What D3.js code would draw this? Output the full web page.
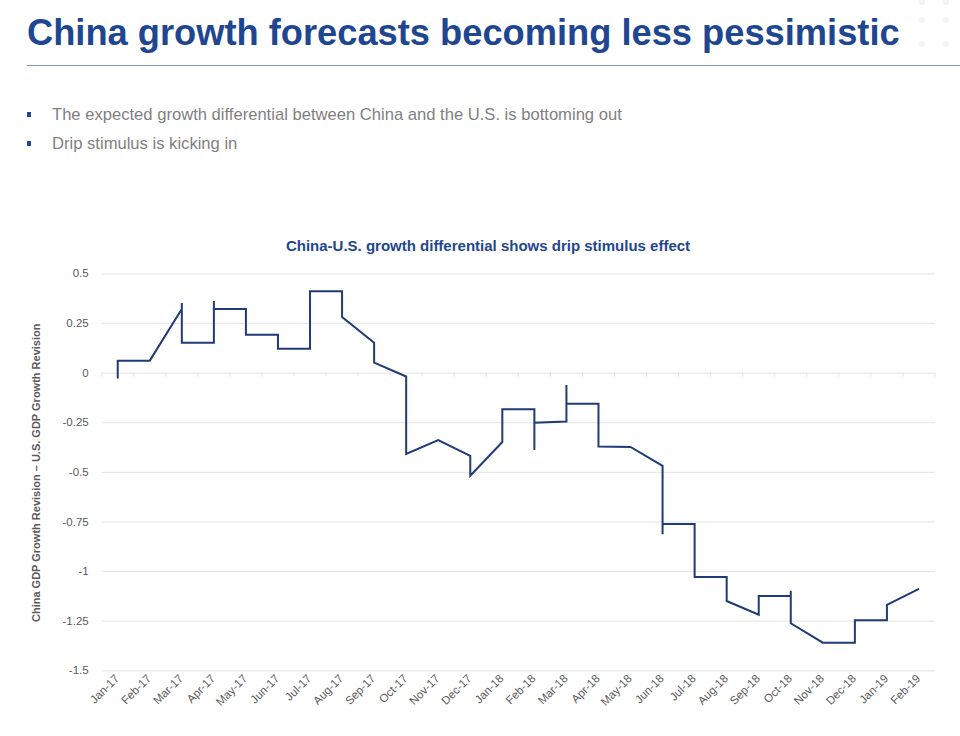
<!DOCTYPE html>
<html>
<head>
<meta charset="utf-8">
<script src="https://cdn.jsdelivr.net/npm/d3@7"></script>
<style>
  html, body { margin: 0; padding: 0; background: #fff; }
  svg { display: block; font-family: "Liberation Sans", Arial, sans-serif; }
</style>
</head>
<body>
<svg id="chart" width="960" height="736"></svg>
<script>
// ---- Data ----
const pageTitle = "China growth forecasts becoming less pessimistic";
const bullets = [
  "The expected growth differential between China and the U.S. is bottoming out",
  "Drip stimulus is kicking in"
];
const chartTitle = "China-U.S. growth differential shows drip stimulus effect";
const yAxisTitle = "China GDP Growth Revision \u2013 U.S. GDP Growth Revision";

const categories = ["Jan-17","Feb-17","Mar-17","Apr-17","May-17","Jun-17","Jul-17","Aug-17",
  "Sep-17","Oct-17","Nov-17","Dec-17","Jan-18","Feb-18","Mar-18","Apr-18","May-18","Jun-18",
  "Jul-18","Aug-18","Sep-18","Oct-18","Nov-18","Dec-18","Jan-19","Feb-19"];

// successive readings within each month (in order)
const monthValues = [
  [-0.03, 0.06],
  [0.06],
  [0.32, 0.35, 0.15],
  [0.15, 0.36, 0.32],
  [0.32, 0.19],
  [0.19, 0.12],
  [0.12, 0.41],
  [0.41, 0.28],
  [0.15, 0.05],
  [-0.02, -0.41],
  [-0.34],
  [-0.42, -0.52],
  [-0.35, -0.185],
  [-0.185, -0.39, -0.253],
  [-0.247, -0.063, -0.157],
  [-0.157, -0.373],
  [-0.375],
  [-0.47, -0.815, -0.763],
  [-0.763, -1.03],
  [-1.03, -1.151],
  [-1.22, -1.126],
  [-1.126, -1.099, -1.263],
  [-1.361],
  [-1.361, -1.248],
  [-1.248, -1.17],
  [-1.09]
];

const yTicks = [0.5, 0.25, 0, -0.25, -0.5, -0.75, -1, -1.25, -1.5];
const yTickLabels = ["0.5","0.25","0","-0.25","-0.5","-0.75","-1","-1.25","-1.5"];

// ---- Drawing ----
const svg = d3.select("#chart");
const blue = "#1f4690";
const gray = "#595959";

// decorative faint dots top-right
const dotXs = [922, 946];
const dotYs = [2, 20, 44];
dotYs.forEach(dy => dotXs.forEach(dx => {
  svg.append("circle").attr("cx", dx).attr("cy", dy).attr("r", 3).attr("fill", "#f3f3f3");
}));

// page title
const t = svg.append("text")
  .attr("x", 27).attr("y", 45)
  .attr("fill", blue)
  .style("font-weight", "bold")
  .style("font-size", "36px")
  .text(pageTitle);
const targetW = 873;
const w0 = t.node().getComputedTextLength();
t.style("font-size", (36 * targetW / w0).toFixed(2) + "px");

svg.append("line").attr("x1", 27).attr("x2", 960).attr("y1", 65.5).attr("y2", 65.5)
  .attr("stroke", "#7f95c2").attr("stroke-width", 1.2);

// bullets
bullets.forEach((b, i) => {
  const by = 120 + i * 29;
  svg.append("rect").attr("x", 27).attr("y", by - 8).attr("width", 4).attr("height", 5).attr("fill", "#1f46a0");
  svg.append("text").attr("x", 52).attr("y", by)
    .attr("fill", "#7f7f7f").style("font-size", "16.6px").text(b);
});

// chart
const plotLeft = 101.7, plotRight = 935, plotTop = 273.3, plotBottom = 670.3;
const x = d3.scaleBand().domain(categories).range([plotLeft, plotRight]).paddingInner(0).paddingOuter(0);
const y = d3.scaleLinear().domain([-1.5, 0.5]).range([plotBottom, plotTop]);

// chart title
svg.append("text").attr("x", 488).attr("y", 251)
  .attr("text-anchor", "middle").attr("fill", blue)
  .style("font-weight", "bold").style("font-size", "15px")
  .text(chartTitle);

// gridlines
const yAxis = d3.axisLeft(y).tickValues(yTicks)
  .tickFormat((d, i) => yTickLabels[i])
  .tickSize(-(plotRight - plotLeft)).tickPadding(13);
const gy = svg.append("g").attr("transform", `translate(${plotLeft},0)`).call(yAxis);
gy.select(".domain").remove();
gy.selectAll(".tick line").attr("stroke", "#e9e9e9").attr("stroke-width", 1.3);
gy.selectAll(".tick text").attr("fill", gray).style("font-size", "11.5px")
  .style("font-family", "'Liberation Sans', Arial, sans-serif");

// zero-line category ticks
const bounds = categories.map(c => x(c)).concat([plotRight]);
svg.append("g").selectAll("line").data(bounds).join("line")
  .attr("x1", d => d).attr("x2", d => d)
  .attr("y1", y(0)).attr("y2", y(0) + 4)
  .attr("stroke", "#e3e3e3").attr("stroke-width", 1);

// x labels
const xAxis = d3.axisBottom(x).tickSize(0).tickPadding(0);
const gx = svg.append("g").attr("transform", `translate(0,${plotBottom})`).call(xAxis);
gx.select(".domain").remove();
gx.selectAll(".tick text")
  .attr("fill", gray).style("font-size", "11.5px")
  .style("font-family", "'Liberation Sans', Arial, sans-serif")
  .attr("text-anchor", "end")
  .attr("dy", null).attr("y", 0)
  .attr("transform", "translate(2,9) rotate(-45)");

// y axis title
svg.append("text")
  .attr("transform", `translate(40,${(plotTop + plotBottom) / 2 + 1}) rotate(-90)`)
  .attr("text-anchor", "middle").attr("fill", gray)
  .style("font-weight", "bold").style("font-size", "11px")
  .text(yAxisTitle);

// line
const pts = [];
categories.forEach((c, i) => {
  monthValues[i].forEach(v => pts.push({ c, v }));
});
const line = d3.line()
  .x(d => x(d.c) + x.bandwidth() / 2)
  .y(d => y(d.v));
svg.append("path").datum(pts)
  .attr("d", line)
  .attr("fill", "none").attr("stroke", "#1f3b78")
  .attr("stroke-width", 2).attr("stroke-linejoin", "miter");
</script>
</body>
</html>
